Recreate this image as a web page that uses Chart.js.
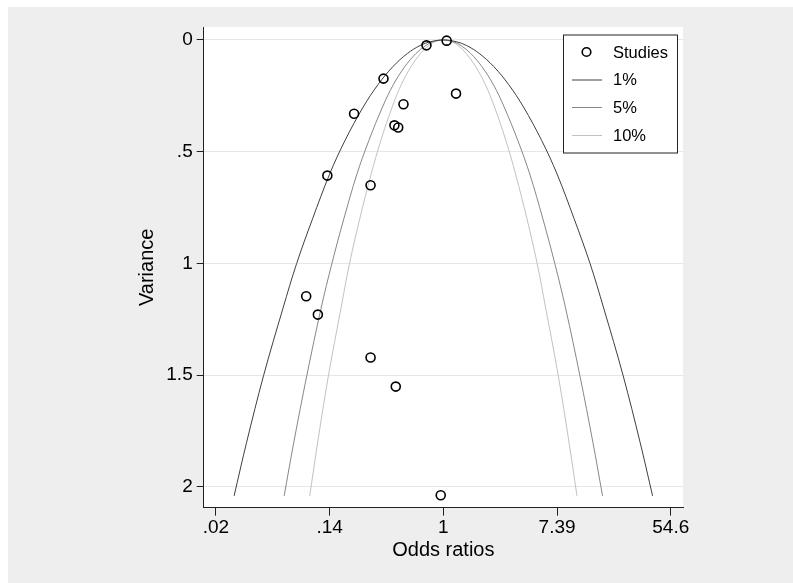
<!DOCTYPE html>
<html>
<head>
<meta charset="utf-8">
<script src="https://cdn.jsdelivr.net/npm/chart.js@4.4.1/dist/chart.umd.min.js"></script>
<style>
  html, body { margin: 0; padding: 0; background: #eeeeee; overflow: hidden; }
  canvas { display: block; }
</style>
</head>
<body>
<canvas id="funnel" width="793" height="583"></canvas>
<script>
// study estimates: odds ratio and its variance
var oddsRatios = [0.743, 1.06, 0.349, 0.208, 0.496, 1.25, 0.423, 0.452, 0.130, 0.278, 0.0896, 0.110, 0.278, 0.433, 0.955];
var variances  = [0.024, 0.003, 0.173, 0.330, 0.288, 0.240, 0.382, 0.392, 0.607, 0.650, 1.147, 1.229, 1.421, 1.551, 2.037];

// significance contours: half-width of each contour on the log odds scale at each variance
var contourVariance = [2.04, 1.8, 1.5, 1.2, 1.0, 0.8, 0.6, 0.45, 0.3, 0.2, 0.12, 0.06, 0.025, 0.008, 0];
var halfWidth1  = [3.68, 3.46, 3.16, 2.82, 2.58, 2.30, 2.00, 1.73, 1.41, 1.15, 0.89, 0.63, 0.41, 0.23, 0];
var halfWidth5  = [2.80, 2.63, 2.40, 2.15, 1.96, 1.75, 1.52, 1.31, 1.07, 0.88, 0.68, 0.48, 0.31, 0.18, 0];
var halfWidth10 = [2.35, 2.21, 2.02, 1.80, 1.65, 1.47, 1.27, 1.10, 0.90, 0.74, 0.57, 0.40, 0.26, 0.15, 0];

var xTickValues = [Math.exp(-4), Math.exp(-2), 1, Math.exp(2), Math.exp(4)];
var xTickLabels = ['.02', '.14', '1', '7.39', '54.6'];
var yTickValues = [0, 0.5, 1, 1.5, 2];
var yTickLabels = ['0', '.5', '1', '1.5', '2'];

var FONT = '"Liberation Sans", Arial, Helvetica, sans-serif';

// left branch bottom->apex, then right branch apex->bottom
function contour(half) {
  var pts = [];
  for (let i = 0; i < half.length; i++) {
    pts.push({x: Math.exp(-half[i]), y: contourVariance[i]});
  }
  for (let i = half.length - 2; i >= 0; i--) {
    pts.push({x: Math.exp(half[i]), y: contourVariance[i]});
  }
  return pts;
}

var studies = [];
for (let i = 0; i < oddsRatios.length; i++) {
  studies.push({x: oddsRatios[i], y: variances[i]});
}

function lineSet(label, half, color) {
  return {
    label: label,
    data: contour(half),
    showLine: true,
    borderColor: color,
    borderWidth: 1,
    pointRadius: 0,
    tension: 0.35,
    fill: false
  };
}

const backdrop = {
  id: 'backdrop',
  beforeDraw(chart) {
    const c = chart.ctx, a = chart.chartArea;
    c.save();
    c.fillStyle = '#ffffff';
    c.fillRect(0, 0, chart.width, chart.height);
    c.fillStyle = '#eeeeee';
    c.fillRect(8, 7, chart.width - 8, chart.height - 7);
    c.fillStyle = '#ffffff';
    c.fillRect(a.left, a.top, a.right - a.left, a.bottom - a.top);
    c.restore();
  }
};

// boxed legend in the upper right of the plot
const boxLegend = {
  id: 'boxLegend',
  afterDraw(chart) {
    const c = chart.ctx;
    const x0 = 563, y0 = 34.5, w = 114, h = 118;
    c.save();
    c.fillStyle = '#ffffff';
    c.fillRect(x0, y0, w, h);
    c.strokeStyle = '#222';
    c.lineWidth = 1;
    c.strokeRect(x0 + 0.5, y0 + 0.5, w, h);
    c.font = '16.5px ' + FONT;
    c.textBaseline = 'middle';
    c.textAlign = 'left';
    const rows = [52, 79.5, 107, 135];
    chart.data.datasets.forEach(function (ds, i) {
      const y = rows[i];
      if (ds.showLine) {
        c.strokeStyle = ds.borderColor;
        c.lineWidth = 1;
        c.beginPath();
        c.moveTo(572, y + 0.5);
        c.lineTo(602, y + 0.5);
        c.stroke();
      } else {
        c.strokeStyle = '#000';
        c.lineWidth = 1.6;
        c.beginPath();
        c.arc(586.5, y, 4.3, 0, Math.PI * 2);
        c.stroke();
      }
      c.fillStyle = '#000';
      c.fillText(ds.label, 613, y + 1);
    });
    c.restore();
  }
};

new Chart(document.getElementById('funnel'), {
  type: 'scatter',
  data: {
    datasets: [
      {
        label: 'Studies',
        data: studies,
        pointStyle: 'circle',
        pointRadius: 4.5,
        pointBorderWidth: 1.6,
        pointBorderColor: '#000',
        pointBackgroundColor: 'rgba(0,0,0,0)'
      },
      lineSet('1%', halfWidth1, '#404040'),
      lineSet('5%', halfWidth5, '#878787'),
      lineSet('10%', halfWidth10, '#c2c2c2')
    ]
  },
  options: {
    responsive: false,
    animation: false,
    layout: { padding: { left: 125, top: 27, right: 110, bottom: 15 } },
    plugins: {
      legend: { display: false },
      tooltip: { enabled: false }
    },
    scales: {
      x: {
        type: 'logarithmic',
        position: 'bottom',
        min: Math.exp(-4.215),
        max: Math.exp(4.215),
        afterBuildTicks: function (s) {
          s.ticks = xTickValues.map(function (v) { return {value: v}; });
        },
        afterFit: function (s) { s.height = 60.3; },
        grid: { drawOnChartArea: false, tickLength: 8, tickColor: '#222' },
        border: { color: '#222', width: 1 },
        ticks: {
          autoSkip: false,
          maxRotation: 0,
          padding: 1,
          color: '#000',
          font: { family: FONT, size: 19 },
          callback: function (v, i) { return xTickLabels[i]; }
        },
        title: {
          display: true,
          text: 'Odds ratios',
          color: '#000',
          font: { family: FONT, size: 20 },
          padding: { top: 0, bottom: 6 }
        }
      },
      y: {
        type: 'linear',
        reverse: true,
        min: -0.058,
        max: 2.093,
        afterBuildTicks: function (s) {
          s.ticks = yTickValues.map(function (v) { return {value: v}; });
        },
        afterFit: function (s) { s.width = 78.7; },
        grid: { color: '#e6e6e6', lineWidth: 1, tickLength: 7, tickColor: '#222' },
        border: { color: '#222', width: 1 },
        ticks: {
          padding: 4,
          color: '#000',
          font: { family: FONT, size: 19 },
          callback: function (v, i) { return yTickLabels[i]; }
        },
        title: {
          display: true,
          text: 'Variance',
          color: '#000',
          font: { family: FONT, size: 20 },
          padding: { top: 10, bottom: 0 }
        }
      }
    }
  },
  plugins: [backdrop, boxLegend]
});
</script>
</body>
</html>
